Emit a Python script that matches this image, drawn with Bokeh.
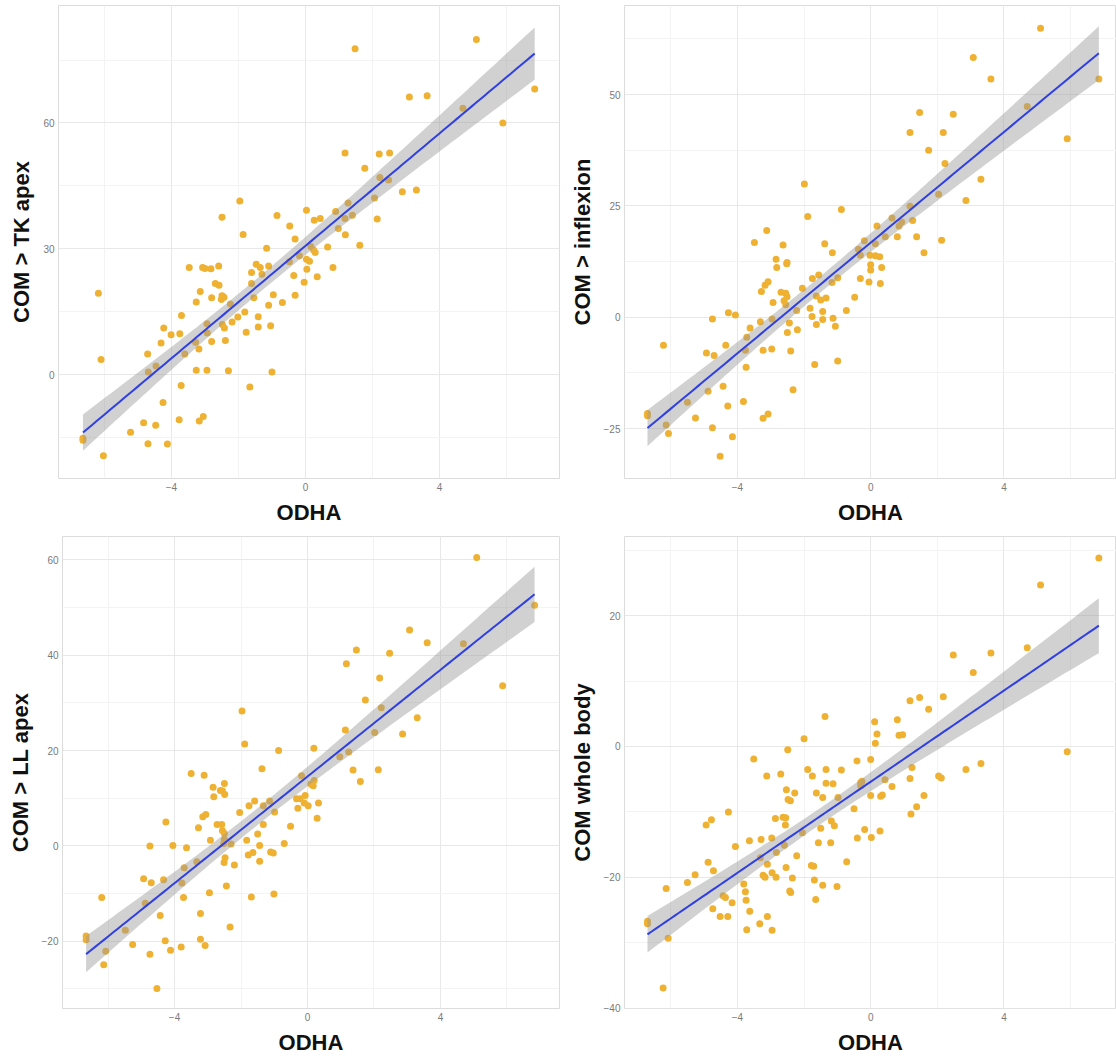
import numpy as np
from bokeh.plotting import figure
from bokeh.models import Range1d, FixedTicker
from bokeh.layouts import column, row
from bokeh.embed import file_html
from bokeh.resources import INLINE

X_TITLE = "ODHA"
X_TICKS = [-4, 0, 4]
X_MINOR = [-6, -2, 2, 6]
Y_TITLES = ["COM > TK apex", "COM > inflexion", "COM > LL apex", "COM whole body"]

# ---- panel A: COM > TK apex ----
tk_x = [1.48, 5.10, 6.84, 3.10, 3.63, 4.70, 5.89, 1.18, 2.20, 2.51,
        1.77, 2.22, 2.48, 2.89, 3.31, 2.06, 1.27, 2.14, 0.90, 1.18,
        1.40, 1.19, 0.98, 1.62, 0.03, 0.26, 0.44, -0.47, -0.31, -0.85,
        -1.96, -1.86, -2.49, -1.16, 0.16, 0.24, 0.29, 0.66, -0.18, 0.03,
        0.12, 0.04, 0.35, 0.82, -0.35, -0.04, -0.31, -0.69, -0.96, -0.48,
        -1.47, -1.35, -1.10, -1.61, -1.30, -1.61, -1.54, -1.10, -1.77, -1.41,
        -1.41, -1.04, -1.00, -1.66, -1.81, -2.02, -2.19, -2.24, -2.51, -2.43,
        -2.49, -2.58, -2.69, -2.59, -2.82, -3.07, -3.47, -3.14, -2.80, -3.26,
        -2.48, -2.42, -2.39, -2.94, -2.93, -2.80, -3.70, -3.75, -4.01, -4.23,
        -4.31, -3.18, -3.28, -3.60, -4.71, -4.69, -4.46, -3.26, -2.94, -2.30,
        -3.71, -4.25, -3.77, -3.17, -3.05, -4.83, -4.47, -5.22, -4.70, -4.12,
        -6.64, -6.64, -6.03, -6.18, -6.10, -3.00]
tk_y = [77.7, 79.9, 68.1, 66.2, 66.5, 63.5, 60.0, 52.8, 52.6, 52.8,
        49.2, 47.0, 46.4, 43.6, 44.0, 42.1, 40.9, 37.1, 38.9, 37.2,
        38.0, 33.3, 34.8, 30.8, 39.2, 36.8, 37.2, 35.4, 32.3, 37.9,
        41.4, 33.4, 37.5, 30.1, 30.5, 29.7, 29.1, 30.4, 28.3, 27.5,
        27.0, 25.1, 23.3, 25.5, 23.6, 22.0, 18.9, 17.2, 19.0, 26.9,
        26.3, 25.5, 25.9, 24.3, 23.9, 21.7, 18.3, 16.5, 10.1, 13.8,
        11.3, 11.6, 0.6, -3.0, 14.9, 13.7, 12.5, 16.8, 17.9, 18.4,
        18.8, 21.3, 21.7, 25.9, 25.2, 25.5, 25.5, 19.8, 18.3, 17.3,
        11.9, 11.1, 8.1, 12.1, 9.9, 7.9, 14.1, 9.7, 9.5, 11.1,
        7.5, 6.1, 7.7, 4.9, 4.9, 0.6, 2.0, 1.0, 1.0, 0.9,
        -2.6, -6.7, -10.8, -11.1, -10.0, -11.5, -12.1, -13.8, -16.5, -16.6,
        -15.2, -15.7, -19.4, 19.4, 3.6, 25.3]

# ---- panel B: COM > inflexion ----
inf_x = [5.10, 3.08, 3.61, 6.85, 4.70, 5.90, 1.47, 2.48, 1.18, 2.18,
         1.74, 2.23, 3.31, 2.04, 2.86, 1.18, 0.64, 1.26, 0.93, 0.85,
         0.19, 0.80, 0.44, 1.38, 2.13, 1.60, -0.19, 0.14, -0.37, -0.31,
         -0.02, 0.14, 0.27, 0.00, 0.00, 0.33, -0.31, -0.05, 0.29, -0.48,
         -0.73, -0.88, -1.89, -1.99, -1.15, -1.38, -1.56, -1.75, -1.16, -0.99,
         -2.05, -1.63, -1.50, -1.34, -1.82, -1.44, -1.76, -1.44, -1.63, -1.13,
         -1.06, -2.22, -2.44, -2.50, -2.20, -2.40, -1.68, -0.99, -2.33, -2.63,
         -2.84, -2.82, -2.51, -3.12, -3.49, -3.08, -3.17, -3.28, -2.93, -2.69,
         -2.55, -2.51, -2.60, -2.55, -2.96, -3.31, -3.62, -3.72, -3.76, -3.74,
         -3.23, -2.97, -4.35, -4.27, -4.06, -4.75, -4.93, -4.70, -6.22, -4.43,
         -4.88, -4.29, -3.82, -5.50, -5.26, -4.75, -4.15, -4.52, -3.23, -3.08,
         -6.70, -6.70, -6.14, -6.07, -2.52]
inf_y = [64.9, 58.3, 53.5, 53.5, 47.3, 40.1, 46.0, 45.6, 41.5, 41.5,
         37.5, 34.5, 31.0, 27.6, 26.2, 24.9, 22.3, 21.7, 21.4, 20.5,
         20.5, 18.1, 18.1, 18.1, 17.3, 14.5, 17.2, 16.5, 15.3, 13.9,
         13.9, 13.8, 13.6, 11.8, 10.6, 11.2, 8.7, 7.9, 7.6, 4.5,
         1.5, 24.2, 22.6, 29.9, 14.5, 16.5, 9.5, 8.7, 7.8, 8.9,
         6.5, 4.8, 3.9, 4.3, 2.0, 1.3, 0.2, -0.5, -1.6, -0.2,
         -2.0, 1.5, -1.3, -3.4, -2.8, -7.6, -10.6, -9.8, -16.3, 16.2,
         13.0, 11.2, 12.3, 19.5, 16.8, 8.0, 7.2, 5.8, 3.3, 5.6,
         5.4, 4.6, 3.7, 2.8, -0.4, -1.0, -2.4, -4.5, -7.4, -11.2,
         -7.4, -7.1, -6.3, 1.0, 0.5, -0.4, -8.0, -8.6, -6.3, -15.5,
         -16.6, -19.9, -18.9, -19.1, -22.6, -24.8, -26.8, -31.2, -22.7, -21.7,
         -21.6, -22.1, -24.2, -26.1, 12.0]

# ---- panel C: COM > LL apex ----
ll_x = [5.09, 6.83, 3.07, 3.60, 4.69, 1.47, 2.47, 1.17, 2.17, 5.87,
        1.74, 2.22, 3.30, 2.86, 2.02, 1.14, -1.97, -1.89, -0.87, 0.19,
        1.24, 0.97, 1.37, 2.13, 1.59, -1.37, -3.50, -3.11, -2.84, -2.82,
        -2.50, -2.62, -2.49, -3.06, -3.15, -3.28, -2.72, -2.58, -2.56, -2.50,
        -2.92, -2.50, -2.52, -2.30, -2.48, -2.51, -2.20, -2.44, -2.33, -2.95,
        -2.04, -1.76, -1.59, -1.33, -1.14, -0.99, -1.33, -1.50, -1.83, -1.44,
        -1.11, -1.03, -1.44, -1.78, -1.64, -0.70, -0.51, -0.33, -0.29, -0.18,
        -0.07, 0.02, 0.10, 0.17, 0.20, 0.33, 0.29, -1.69, -1.01, -4.05,
        -3.64, -4.74, -4.26, -4.93, -4.70, -4.33, -3.71, -3.33, -3.78, -3.73,
        -4.88, -4.43, -3.22, -3.22, -3.08, -3.80, -4.28, -4.12, -4.74, -5.26,
        -5.48, -6.19, -6.66, -6.66, -6.07, -6.13, -4.53, -0.22, -2.56, -0.10]
ll_y = [60.5, 50.5, 45.3, 42.6, 42.4, 41.1, 40.4, 38.2, 35.2, 33.6,
        30.6, 29.0, 26.9, 23.5, 23.8, 24.3, 28.3, 21.4, 20.0, 20.5,
        19.7, 18.7, 15.9, 16.0, 13.5, 16.2, 15.2, 14.8, 12.3, 10.3,
        13.1, 11.6, 10.8, 6.6, 6.1, 3.8, 4.5, 4.5, 3.2, 2.6,
        1.2, 1.4, 0.5, 0.4, -2.5, -3.5, -4.0, -8.4, -17.0, -9.8,
        7.0, 8.4, 9.4, 8.4, 9.4, 7.1, 4.5, 2.5, 1.2, 0.1,
        -1.3, -1.5, -3.2, -1.9, -1.4, 0.5, 4.1, 9.9, 7.9, 14.7,
        10.6, 8.4, 13.0, 12.6, 13.7, 9.0, 5.8, -10.7, -10.1, 0.1,
        -0.4, 0.0, 5.0, -6.9, -7.7, -7.1, -4.6, -3.3, -7.8, -10.8,
        -12.0, -14.6, -14.2, -19.6, -20.9, -21.2, -19.9, -21.9, -22.7, -20.7,
        -17.7, -10.8, -18.9, -19.7, -22.1, -24.9, -29.9, 9.9, 11.5, 9.0]

# ---- panel D: COM whole body ----
wb_x = [6.85, 5.10, 4.70, 2.48, 3.61, 3.08, 1.47, 1.18, 2.18, 1.74,
        0.80, 0.12, 0.19, 0.85, 0.96, 0.14, -1.37, -2.00, -2.49, -3.51,
        -3.12, -2.70, -1.89, -1.75, -1.34, -0.88, -0.41, 0.00, -1.34, -1.13,
        -1.63, -1.44, -0.98, -0.30, -0.26, -0.30, 0.43, 0.64, 0.00, 0.30,
        0.35, 1.24, 1.18, 2.86, 3.31, 2.04, 2.12, 1.60, 1.38, 1.21,
        5.90, -0.50, -0.18, -0.40, 0.02, 0.28, -2.53, -2.48, -2.41, -2.28,
        -2.63, -2.55, -2.56, -2.86, -2.05, -1.50, -1.18, -1.09, -1.20, -1.57,
        -2.22, -2.59, -2.97, -3.29, -3.64, -4.06, -4.27, -4.78, -4.94, -2.83,
        -2.54, -2.35, -2.84, -3.23, -3.17, -2.96, -3.10, -3.31, -3.81, -3.76,
        -3.74, -3.63, -4.16, -4.43, -4.36, -4.74, -4.52, -4.29, -3.72, -3.33,
        -3.10, -2.96, -2.43, -2.40, -1.78, -1.71, -1.69, -1.65, -1.44, -1.01,
        -0.72, -4.88, -4.72, -5.27, -5.50, -6.14, -6.70, -6.70, -6.08, -6.23]
wb_y = [28.8, 24.7, 15.1, 14.0, 14.3, 11.3, 7.5, 7.0, 7.6, 5.7,
        4.1, 3.8, 1.9, 1.7, 1.8, 0.5, 4.6, 1.2, -0.5, -1.9,
        -4.5, -4.2, -3.5, -4.5, -3.5, -3.6, -2.2, -2.0, -5.6, -5.7,
        -7.1, -7.8, -7.8, -5.5, -5.3, -6.0, -5.1, -6.1, -7.5, -7.6,
        -7.4, -3.2, -4.9, -3.5, -2.6, -4.5, -4.8, -7.5, -9.2, -10.3,
        -0.8, -9.5, -12.7, -14.0, -13.9, -12.9, -6.6, -8.1, -8.3, -7.1,
        -10.8, -10.9, -12.0, -11.0, -13.2, -12.5, -11.4, -12.1, -14.7, -14.7,
        -16.7, -15.1, -14.0, -14.2, -14.4, -15.3, -10.0, -11.2, -12.0, -16.2,
        -18.5, -20.1, -20.0, -19.7, -20.0, -19.3, -18.0, -17.0, -21.0, -22.2,
        -23.5, -25.2, -23.9, -22.8, -23.1, -24.8, -26.0, -26.0, -28.0, -27.1,
        -26.0, -28.1, -22.1, -22.3, -18.2, -18.3, -20.4, -23.4, -21.2, -21.4,
        -17.6, -17.7, -19.0, -19.6, -20.8, -21.7, -26.7, -27.1, -29.3, -36.9]

POINT_COLOR = "#EFB132"
LINE_COLOR = "#2F3FE2"
BAND_COLOR = "#999999"
FONT = "Liberation Sans"
T_CRIT = 1.98


def smooth(xv, yv):
    x = np.asarray(xv, float)
    y = np.asarray(yv, float)
    n = x.size
    slope, icpt = np.polyfit(x, y, 1)
    xs = np.linspace(x.min(), x.max(), 100)
    fit = icpt + slope * xs
    res = y - (icpt + slope * x)
    s = np.sqrt((res ** 2).sum() / (n - 2))
    sxx = ((x - x.mean()) ** 2).sum()
    se = s * np.sqrt(1.0 / n + (xs - x.mean()) ** 2 / sxx)
    return xs, fit, fit - T_CRIT * se, fit + T_CRIT * se


def make_panel(xv, yv, ytitle, w, h, xr, yr, yt, ym, bl, br, bt, bb):
    p = figure(width=w, height=h, output_backend="svg", toolbar_location=None,
               x_range=Range1d(*xr), y_range=Range1d(*yr),
               min_border_left=bl, min_border_right=br,
               min_border_top=bt, min_border_bottom=bb,
               background_fill_color="white", border_fill_color="white")
    p.outline_line_color = "#DCDCDC"
    p.xaxis.ticker = FixedTicker(ticks=X_TICKS, minor_ticks=X_MINOR)
    p.yaxis.ticker = FixedTicker(ticks=yt, minor_ticks=ym)
    p.grid.grid_line_color = "#E8E8E8"
    p.grid.minor_grid_line_color = "#F3F3F3"
    p.xaxis.axis_label = X_TITLE
    p.yaxis.axis_label = ytitle
    for ax in p.axis:
        ax.axis_line_color = None
        ax.major_tick_line_color = None
        ax.minor_tick_line_color = None
        ax.major_tick_in = 0
        ax.major_tick_out = 0
        ax.minor_tick_in = 0
        ax.minor_tick_out = 0
        ax.major_label_text_font = FONT
        ax.major_label_text_font_size = "10px"
        ax.major_label_text_color = "#7A7A7A"
        ax.axis_label_text_font = FONT
        ax.axis_label_text_font_size = "22px"
        ax.axis_label_text_font_style = "bold"
        ax.axis_label_text_color = "#111111"
        ax.major_label_standoff = 4
        ax.axis_label_standoff = 6
    p.scatter(xv, yv, size=7, fill_color=POINT_COLOR, line_color=None)
    xs, fit, lo, hi = smooth(xv, yv)
    p.varea(x=xs, y1=lo, y2=hi, fill_color=BAND_COLOR, fill_alpha=0.45)
    p.line(xs, fit, line_color=LINE_COLOR, line_width=2)
    return p


p1 = make_panel(tk_x, tk_y, Y_TITLES[0], 566, 535, (-7.37, 7.58), (-24.8, 88.0),
                [0, 30, 60], [-15, 15, 45, 75], 58, 7, 5, 57)
p2 = make_panel(inf_x, inf_y, Y_TITLES[1], 550, 535, (-7.39, 7.38), (-36.2, 70.0),
                [-25, 0, 25, 50], [-12.5, 12.5, 37.5, 62.5], 58, 0, 5, 57)
p3 = make_panel(ll_x, ll_y, Y_TITLES[2], 566, 526, (-7.37, 7.58), (-34.1, 64.9),
                [-20, 0, 20, 40, 60], [-30, -10, 10, 30, 50], 62, 7, 1, 53)
p4 = make_panel(wb_x, wb_y, Y_TITLES[3], 550, 526, (-7.39, 7.38), (-40.05, 32.1),
                [-40, -20, 0, 20], [-30, -10, 10, 30], 58, 0, 1, 53)

layout = column(row(p1, p2), row(p3, p4))
open("out.html", "w").write(file_html(layout, INLINE))
